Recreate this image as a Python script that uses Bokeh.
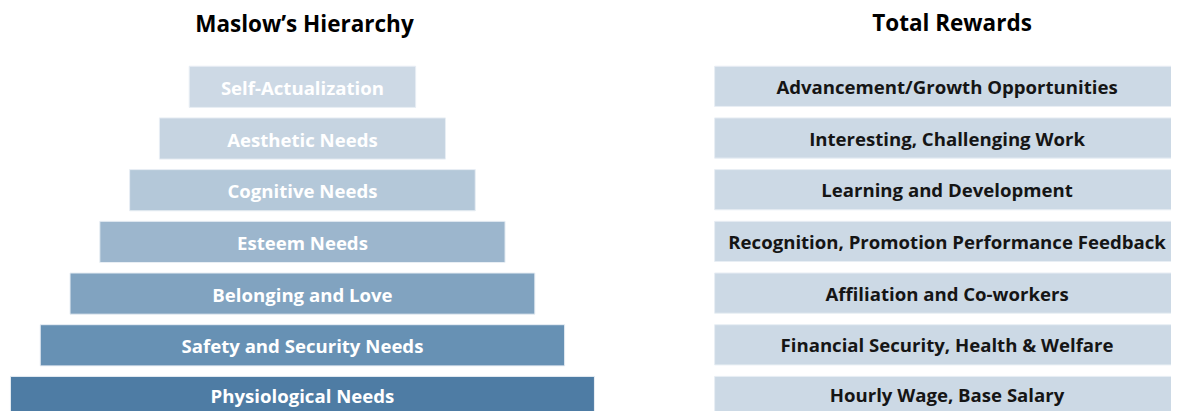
from bokeh.plotting import figure
from bokeh.models import Range1d, ColumnDataSource
from bokeh.core.properties import value
from bokeh.embed import file_html
from bokeh.resources import INLINE

# ---- data ----
maslow_labels = ["Self-Actualization", "Aesthetic Needs", "Cognitive Needs", "Esteem Needs",
                 "Belonging and Love", "Safety and Security Needs", "Physiological Needs"]
maslow_tier = [1, 2, 3, 4, 5, 6, 7]
reward_labels = ["Advancement/Growth Opportunities", "Interesting, Challenging Work",
                 "Learning and Development", "Recognition, Promotion Performance Feedback",
                 "Affiliation and Co-workers", "Financial Security, Health & Welfare",
                 "Hourly Wage, Base Salary"]
titles = ["Maslow\u2019s Hierarchy", "Total Rewards"]

# ---- styles / layout ----
tier_colors = ["#cdd9e5", "#c6d4e1", "#b4c8d9", "#9cb6cd", "#81a3c0", "#6791b4", "#4e7ca4"]
FONT = value("Open Sans")
W, H = 1171, 411

p = figure(width=W, height=H, output_backend="svg", toolbar_location=None,
           x_range=Range1d(0, 1179), y_range=Range1d(419, 0),
           min_border=0, background_fill_color="white", border_fill_color="white")
p.axis.visible = False
p.grid.visible = False
p.outline_line_color = None

cx = 304
pitch = 52.7
top0 = 67
bh = 42
base_w = 228
step_w = 60

tops = [top0 + (t - 1) * pitch for t in maslow_tier]
src = ColumnDataSource(dict(
    left=[cx - (base_w + (t - 1) * step_w) / 2 for t in maslow_tier],
    right=[cx + (base_w + (t - 1) * step_w) / 2 for t in maslow_tier],
    top=tops,
    bottom=[y + bh for y in tops],
    mid=[min(y + bh / 2 + 0.5, 403) for y in tops],
    x=[cx] * len(maslow_tier),
    color=tier_colors,
    label=maslow_labels,
))
p.quad(left="left", right="right", top="top", bottom="bottom", fill_color="color",
       line_color="#e8eef4", line_width=1, source=src)
p.text(x="x", y="mid", text="label", source=src, text_color="white",
       text_font=FONT, text_font_style="bold", text_font_size="18.6px",
       text_align="center", text_baseline="middle")

rx0, rx1 = 719, 1190
rcx = 953
rtops = [top0 + (t - 1) * pitch for t in maslow_tier]
rsrc = ColumnDataSource(dict(
    left=[rx0] * 7, right=[rx1] * 7,
    top=rtops, bottom=[y + 41 for y in rtops],
    mid=[min(y + 20.5, 402) for y in rtops], x=[rcx] * 7,
    label=reward_labels,
))
p.quad(left="left", right="right", top="top", bottom="bottom", fill_color="#ccd9e5",
       line_color="#e8eef4", line_width=1, source=rsrc)
p.text(x="x", y="mid", text="label", source=rsrc, text_color="#151515",
       text_font=FONT, text_font_style="bold", text_font_size="18.6px",
       text_align="center", text_baseline="middle")

p.text(x=[306, 958], y=[23, 22], text=titles, text_color="black",
       text_font=FONT, text_font_style="bold", text_font_size="22.5px",
       text_align="center", text_baseline="middle")

open("out.html", "w").write(file_html(p, INLINE))
